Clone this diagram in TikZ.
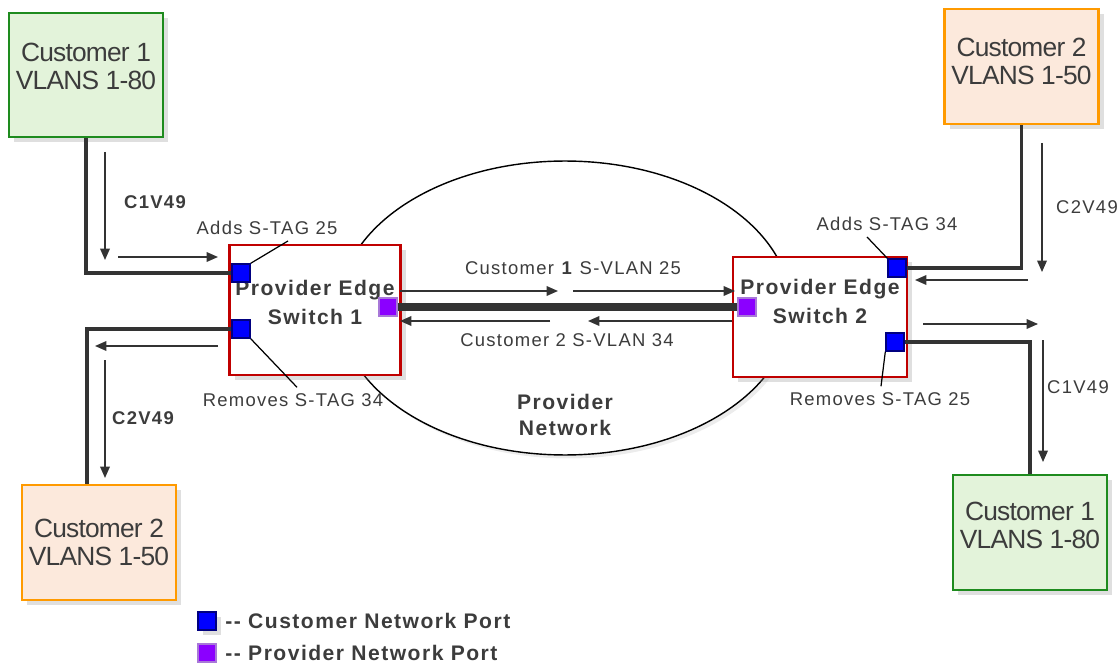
\documentclass[tikz,border=0pt]{standalone}
\usepackage{fontspec}
\setmainfont{Liberation Sans}
\newfontfamily\spacedfont[LetterSpace=7]{Liberation Sans}
\newfontfamily\tightfont[LetterSpace=-3]{Liberation Sans}
\usetikzlibrary{shapes.geometric,shadows,arrows.meta,calc,positioning}

\definecolor{custgreen}{HTML}{1E8B1E}
\definecolor{custgreenfill}{HTML}{E3F3DA}
\definecolor{custorange}{HTML}{FF9A00}
\definecolor{custorangefill}{HTML}{FCE9DC}
\definecolor{pered}{HTML}{C00000}
\definecolor{portblue}{HTML}{0000FF}
\definecolor{portnavy}{HTML}{000080}
\definecolor{portpurple}{HTML}{8B00FF}
\definecolor{portlilac}{HTML}{A878D8}
\definecolor{linegray}{HTML}{333333}
\definecolor{textgray}{HTML}{3C3C3C}

\tikzset{
  boxshadow/.style={drop shadow={shadow xshift=3pt, shadow yshift=-3pt, opacity=0.25}},
  site/.style={line width=1.6pt, minimum width=3.08cm, minimum height=2.3cm, align=center,
    font=\tightfont\fontsize{15}{16}\selectfont, text=textgray, boxshadow},
  site1/.style={site, draw=custgreen, fill=custgreenfill},
  site2/.style={site, draw=custorange, fill=custorangefill},
  pe/.style={draw=pered, fill=white, line width=1.6pt, minimum width=3.4cm, minimum height=2.6cm,
    align=center, font=\spacedfont\fontsize{12}{16.5}\selectfont\bfseries, text=textgray, boxshadow},
  cport/.style={draw=portnavy, fill=portblue, line width=0.8pt, minimum size=0.36cm, inner sep=0pt},
  pport/.style={draw=portlilac, fill=portpurple, line width=0.8pt, minimum size=0.36cm, inner sep=0pt},
  netcloud/.style={draw, ellipse, line width=0.8pt, fill=white, minimum width=9.04cm, minimum height=5.88cm,
    drop shadow={shadow xshift=2pt, shadow yshift=-2pt, opacity=0.15}},
  link/.style={draw=linegray, line width=2.2pt},
  trunk/.style={draw=linegray, line width=4pt},
  flow/.style={->, draw=linegray, line width=0.8pt},
  lead/.style={draw=black, line width=0.7pt},
  tag/.style={font=\spacedfont\fontsize{10.5}{12}\selectfont, text=textgray},
  tagb/.style={tag, font=\spacedfont\fontsize{10.5}{12}\selectfont\bfseries},
  legend/.style={font=\spacedfont\fontsize{12}{13}\selectfont\bfseries, text=textgray}
}

\begin{document}
\begin{tikzpicture}[x=0.02cm, y=-0.02cm, >={Triangle[length=6.5pt,width=5.5pt]}]
\useasboundingbox (0,0) rectangle (1118,665);

% provider network
\node[netcloud] (net) at (565,308) {};
\node[tagb, font=\spacedfont\fontsize{12}{15.3}\selectfont\bfseries, align=center] (nett) at (565,415) {Provider\\Network};

% customer sites
\node[site1, minimum height=2.48cm, text depth=10pt] (c1a) at (86,75) {Customer 1\\VLANS 1-80};
\node[site2, text depth=6pt] (c2b) at (1021.5,66.5) {Customer 2\\VLANS 1-50};
\node[site2] (c2a) at (99,542.5) {Customer 2\\VLANS 1-50};
\node[site1, text depth=8pt] (c1b) at (1030,532.5) {Customer 1\\VLANS 1-80};

% provider edge switches
\node[pe, text depth=8.5pt] (sw1) at (315,310) {Provider Edge\\Switch 1};
\node[pe, minimum width=3.48cm, minimum height=2.4cm, text depth=18pt] (sw2) at (820,317) {Provider Edge\\Switch 2};

% ports
\node[cport] (p1a) at (241,273) {};
\node[cport] (p1b) at (241,329) {};
\node[pport] (p1n) at (388,307) {};
\node[cport] (p2a) at (897,268) {};
\node[cport] (p2b) at (895,342) {};
\node[pport] (p2n) at (747,307) {};

% links
\draw[link] (c1a.south) |- (p1a.west);
\draw[link] (p1b.west) -| ([xshift=-0.24cm]c2a.north);
\draw[link] (c2b.south) |- (p2a.east);
\draw[link] (p2b.east) -| (c1b.north);
\draw[trunk] (p1n.east) -- (p2n.west);

% traffic direction
\draw[flow] (105,152) -- (105,260);
\draw[flow] (118,257) -- (218,257);
\draw[flow] (218,346) -- (95,346);
\draw[flow] (105,360) -- (105,478);
\draw[flow] (400,291) -- (558,291);
\draw[flow] (573,291) -- (735,291);
\draw[flow] (732,321) -- (588,321);
\draw[flow] (550,321) -- (400,321);
\draw[flow] (1042,143) -- (1042,272);
\draw[flow] (1028,280) -- (915,280);
\draw[flow] (923,324) -- (1038,324);
\draw[flow] (1043,340) -- (1043,462);

% labels
\node[tagb] (v1) at (155,202) {C1V49};
\node[tagb] (v2) at (143,418) {C2V49};
\node[tag] (v3) at (1087,207) {C2V49};
\node[tag] (v4) at (1078,387) {C1V49};
\node[tag] (t1) at (267,228) {Adds S-TAG 25};
\node[tag] (t2) at (293,400) {Removes S-TAG 34};
\node[tag] (t3) at (887,224) {Adds S-TAG 34};
\node[tag] (t4) at (880,399) {Removes S-TAG 25};
\node[tag] (t5) at (573,268) {Customer \textbf{1} S-VLAN 25};
\node[tag] (t6) at (567,340) {Customer 2 S-VLAN 34};

\draw[lead] (p1a.north east) -- ($(t1.south)+(21,0)$);
\draw[lead] (p1b.south east) -- ($(t2.north)+(4,0)$);
\draw[lead] (p2a.north west) -- ($(t3.south)+(-20,0)$);
\draw[lead] (p2b.south west) -- ($(t4.north)+(1,0)$);

% legend
\node[cport, boxshadow] (lc) at (207,621) {};
\node[legend, right=0.05cm of lc] (lct) {-- Customer Network Port};
\node[pport] (lp) at (207,653) {};
\node[legend, right=0.05cm of lp] (lpt) {-- Provider Network Port};
\end{tikzpicture}
\end{document}
